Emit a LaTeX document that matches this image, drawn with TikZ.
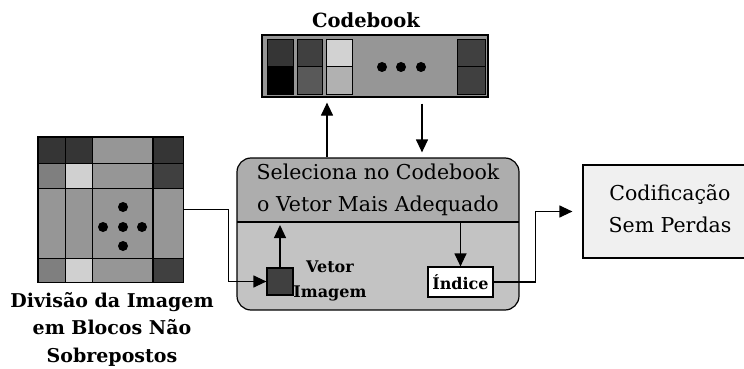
\documentclass[tikz,border=0pt]{standalone}
\usepackage{fontspec}
\setmainfont{DejaVu Serif}
\usetikzlibrary{arrows.meta}
\definecolor{dk}{HTML}{353535}
\definecolor{dk2}{HTML}{404040}
\definecolor{md}{HTML}{969696}
\definecolor{md2}{HTML}{7F7F7F}
\definecolor{lt}{HTML}{D0D0D0}
\definecolor{seltop}{HTML}{ADADAD}
\definecolor{selbot}{HTML}{C3C3C3}
\definecolor{outbox}{HTML}{F0F0F0}
\tikzset{
  cell/.style={draw=black, line width=0.9pt},
  wire/.style={draw=black, line width=1.2pt},
  arr/.style={wire, -{Triangle[length=13pt,width=12pt]}},
  dot/.style={circle, fill=black, inner sep=0pt, minimum size=10pt},
  bigtxt/.style={font=\fontsize{20.5}{32}\selectfont, align=center},
}
\begin{document}
\begin{tikzpicture}[x=1pt,y=-1pt]
\useasboundingbox (0,0) rectangle (744,369);
\clip (0,0) rectangle (744,369);

% ---- image divided into blocks ----
\node[draw=black, line width=1.2pt, minimum width=145pt, minimum height=145pt, inner sep=0pt, fill=md] (grid) at (110.5,209.5) {};
% row 1
\filldraw[cell, fill=dk]  (38,137) rectangle (65,163);
\filldraw[cell, fill=dk]  (65,137) rectangle (92,163);
\filldraw[cell, fill=md]  (92,137) rectangle (153,163);
\filldraw[cell, fill=dk]  (153,137) rectangle (183,163);
% row 2
\filldraw[cell, fill=md2] (38,163) rectangle (65,188);
\filldraw[cell, fill=lt]  (65,163) rectangle (92,188);
\filldraw[cell, fill=md]  (92,163) rectangle (153,188);
\filldraw[cell, fill=dk2] (153,163) rectangle (183,188);
% row 3
\filldraw[cell, fill=md]  (38,188) rectangle (65,258);
\filldraw[cell, fill=md]  (65,188) rectangle (92,258);
\filldraw[cell, fill=md]  (92,188) rectangle (153,258);
\filldraw[cell, fill=md]  (153,188) rectangle (183,258);
% row 4
\filldraw[cell, fill=md2] (38,258) rectangle (65,282);
\filldraw[cell, fill=lt]  (65,258) rectangle (92,282);
\filldraw[cell, fill=md]  (92,258) rectangle (153,282);
\filldraw[cell, fill=dk2] (153,258) rectangle (183,282);
\draw[line width=1.2pt] (grid.north west) rectangle (grid.south east);
\draw[line width=1.6pt] (153,137) -- (153,282);
\node[dot] at (123,207) {};
\node[dot] at (103,227) {};
\node[dot] at (123,227) {};
\node[dot] at (142,227) {};
\node[dot] at (123,246) {};
\node[font=\bfseries\fontsize{19}{27.5}\selectfont, align=center] (divlabel) at (112,329)
  {Divisão da Imagem\\em Blocos Não\\Sobrepostos};

% ---- codebook ----
\node[font=\bfseries\fontsize{19.5}{22}\selectfont] (cbtitle) at (366,20) {Codebook};
\node[draw=black, line width=1.2pt, fill=md, minimum width=226pt, minimum height=62pt, inner sep=0pt] (cb) at (375,66) {};
\filldraw[cell, fill=dk]  (267,39) rectangle (293,66);
\filldraw[cell, fill=black] (267,66) rectangle (293,94);
\filldraw[cell, fill=dk2] (297,39) rectangle (322,66);
\filldraw[cell, fill=md2!70!black] (297,66) rectangle (322,94);
\filldraw[cell, fill=lt!95!white] (326,39) rectangle (352,66);
\filldraw[cell, fill=lt!85!black] (326,66) rectangle (352,94);
\filldraw[cell, fill=dk2] (457,39) rectangle (485,66);
\filldraw[cell, fill=dk2] (457,66) rectangle (485,94);
\node[dot] at (382,67) {};
\node[dot] at (401,67) {};
\node[dot] at (421,67) {};

% ---- selection block ----
\begin{scope}
  \clip[rounded corners=14pt] (237,158) rectangle (519,310);
  \fill[seltop] (237,158) rectangle (519,222);
  \fill[selbot] (237,222) rectangle (519,310);
\end{scope}
\node[draw=black, line width=1.2pt, rounded corners=14pt, minimum width=282pt, minimum height=152pt, inner sep=0pt] (sel) at (378,234) {};
\coordinate (divL) at (237,222);
\coordinate (divR) at (519,222);
\draw[wire] (divL) -- (divR);
\node[bigtxt] (seltxt) at (378,190) {Seleciona no Codebook\\o Vetor Mais Adequado};

\node[draw=black, line width=1.2pt, fill=dk2, minimum width=26pt, minimum height=27pt, inner sep=0pt] (vet) at (280,281.5) {};
\node[font=\bfseries\fontsize{16}{25}\selectfont, align=center] (vetlabel) at (330,281) {Vetor\\Imagem};
\node[draw=black, line width=1.2pt, fill=white, minimum width=65pt, minimum height=30pt, inner sep=0pt, font=\bfseries\fontsize{16}{18}\selectfont] (idx) at (460.5,282) {Índice};

% ---- lossless coding ----
\node[draw=black, line width=1.2pt, fill=outbox, minimum width=177pt, minimum height=93pt, inner sep=0pt] (out) at (671.5,211.5) {};
\node[bigtxt] (outtxt) at (670,209) {Codificação\\Sem Perdas};

% ---- connectors ----
\coordinate (upx) at (327,0);
\coordinate (dnx) at (422,0);
\draw[arr, shorten >=5pt] (sel.north -| upx) -- (cb.south -| upx);
\draw[arr, shorten <=6pt, shorten >=5pt] (cb.south -| dnx) -- (sel.north -| dnx);
\draw[arr] (grid.east) -- ++(45,0) |- (vet.west);
\draw[arr, shorten >=3pt] (vet.north) -- (vet.north |- divL);
\draw[arr, shorten <=1pt] (divL -| idx.north) -- (idx.north);
\draw[arr, shorten >=10pt] (idx.east) -- ++(42,0) |- (out.west);
\end{tikzpicture}
\end{document}
